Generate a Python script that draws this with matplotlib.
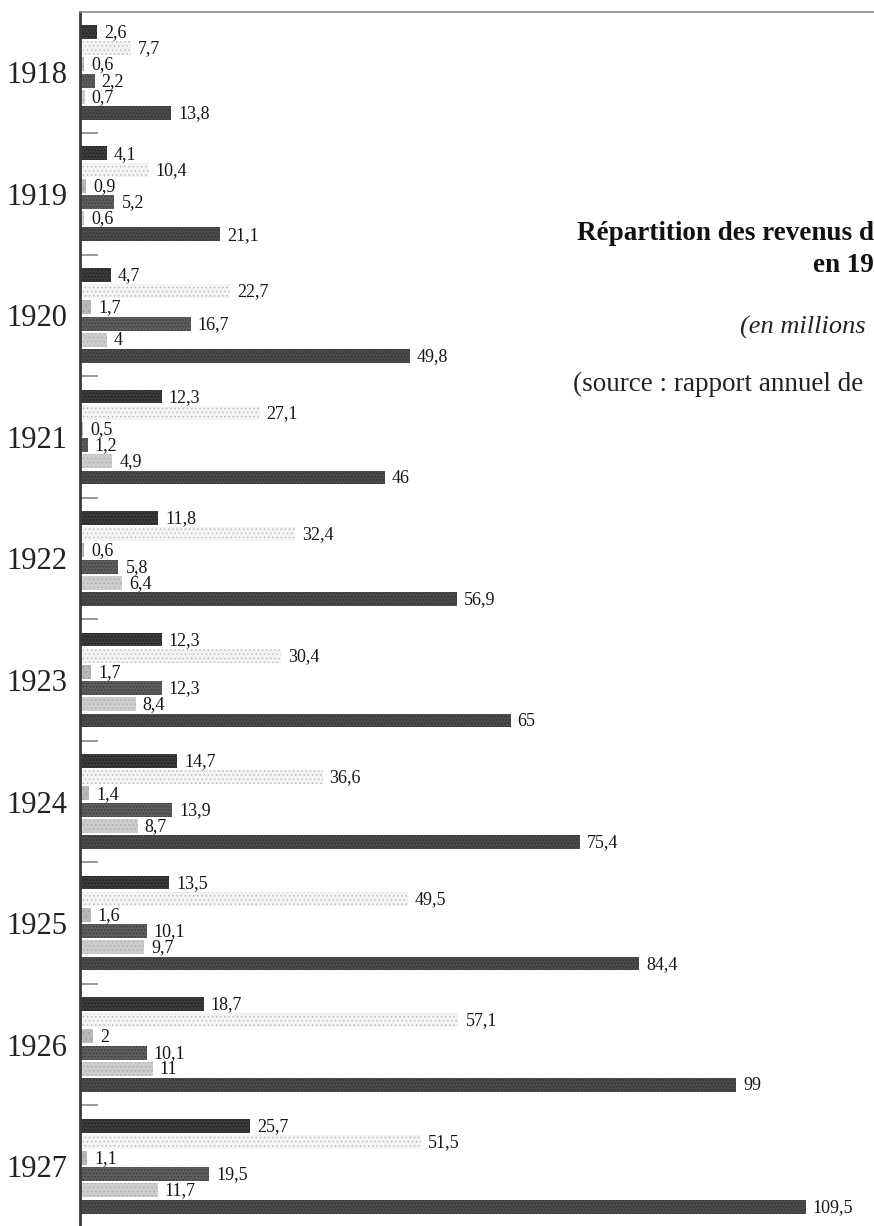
import numpy as np
import matplotlib.pyplot as plt

# data (millions)
years = ['1918', '1919', '1920', '1921', '1922', '1923', '1924', '1925', '1926', '1927']
s1 = [2.6, 4.1, 4.7, 12.3, 11.8, 12.3, 14.7, 13.5, 18.7, 25.7]
s2 = [7.7, 10.4, 22.7, 27.1, 32.4, 30.4, 36.6, 49.5, 57.1, 51.5]
s3 = [0.6, 0.9, 1.7, 0.5, 0.6, 1.7, 1.4, 1.6, 2, 1.1]
s4 = [2.2, 5.2, 16.7, 1.2, 5.8, 12.3, 13.9, 10.1, 10.1, 19.5]
s5 = [0.7, 0.6, 4, 4.9, 6.4, 8.4, 8.7, 9.7, 11, 11.7]
s6 = [13.8, 21.1, 49.8, 46, 56.9, 65, 75.4, 84.4, 99, 109.5]
series = [s1, s2, s3, s4, s5, s6]

plt.rcParams['hatch.linewidth'] = 0.6
serif = ['Liberation Serif', 'DejaVu Serif']

styles = [
    dict(color='#3a3a3a', hatch='.....', edgecolor='#1c1c1c'),
    dict(color='#f4f4f4', hatch='....', edgecolor='#bdbdbd'),
    dict(color='#b8b8b8', hatch='...', edgecolor='#a0a0a0'),
    dict(color='#5c5c5c', hatch='.....', edgecolor='#3c3c3c'),
    dict(color='#cdcdcd', hatch='....', edgecolor='#b0b0b0'),
    dict(color='#4a4a4a', hatch='.....', edgecolor='#2e2e2e'),
]

def fmt(v):
    if v == int(v):
        return '%d' % v
    return ('%.1f' % v).replace('.', ',')

fig = plt.figure(figsize=(8.74, 12.26), dpi=100)
ax = fig.add_axes([80/874, 0, 1-80/874, (1226-12)/1226])

gap = 7.5
base = np.arange(len(years)) * gap
for i, (vals, st) in enumerate(zip(series, styles)):
    y = base + i
    ax.barh(y, vals, height=0.86, linewidth=0, **st)
    for yy, v in zip(y, vals):
        ax.annotate(fmt(v), (v, yy), xytext=(5, -0.5), textcoords='offset points',
                    va='center', ha='left', fontsize=13, family=serif, color='#151515')

ax.set_xlim(0, 119.8)
ax.set_ylim(73.7, -1.23)

# separators between year groups + year labels
ax.set_yticks(base[:-1] + 6.25)
ax.set_yticklabels([])
ax.tick_params(axis='y', which='major', direction='in', length=13, width=1.2, color='#888888')
ax.set_yticks(base + 2.5, minor=True)
ax.set_yticklabels(years, minor=True, fontsize=22, family=serif, color='#222222')
ax.tick_params(axis='y', which='minor', length=0, pad=9)
ax.set_xticks([])

for s in ['right', 'bottom']:
    ax.spines[s].set_visible(False)
ax.spines['left'].set_color('#3a3a3a')
ax.spines['left'].set_linewidth(2)
ax.spines['top'].set_color('#8a8a8a')
ax.spines['top'].set_linewidth(1.2)

# title block (cut off on the right in the original scan)
fig.text(577/874, 1-233/1226, 'Répartition des revenus d', fontsize=19.5, weight='bold',
         family=serif, va='center', ha='left', color='#111111')
fig.text(813/874, 1-266/1226, 'en 19', fontsize=19.5, weight='bold',
         family=serif, va='center', ha='left', color='#111111')
fig.text(740/874, 1-327/1226, '(en millions', fontsize=19, style='italic',
         family=serif, va='center', ha='left', color='#222222')
fig.text(573/874, 1-384/1226, '(source : rapport annuel de', fontsize=19.5,
         family=serif, va='center', ha='left', color='#222222')

fig.savefig('out.png', dpi=100)
